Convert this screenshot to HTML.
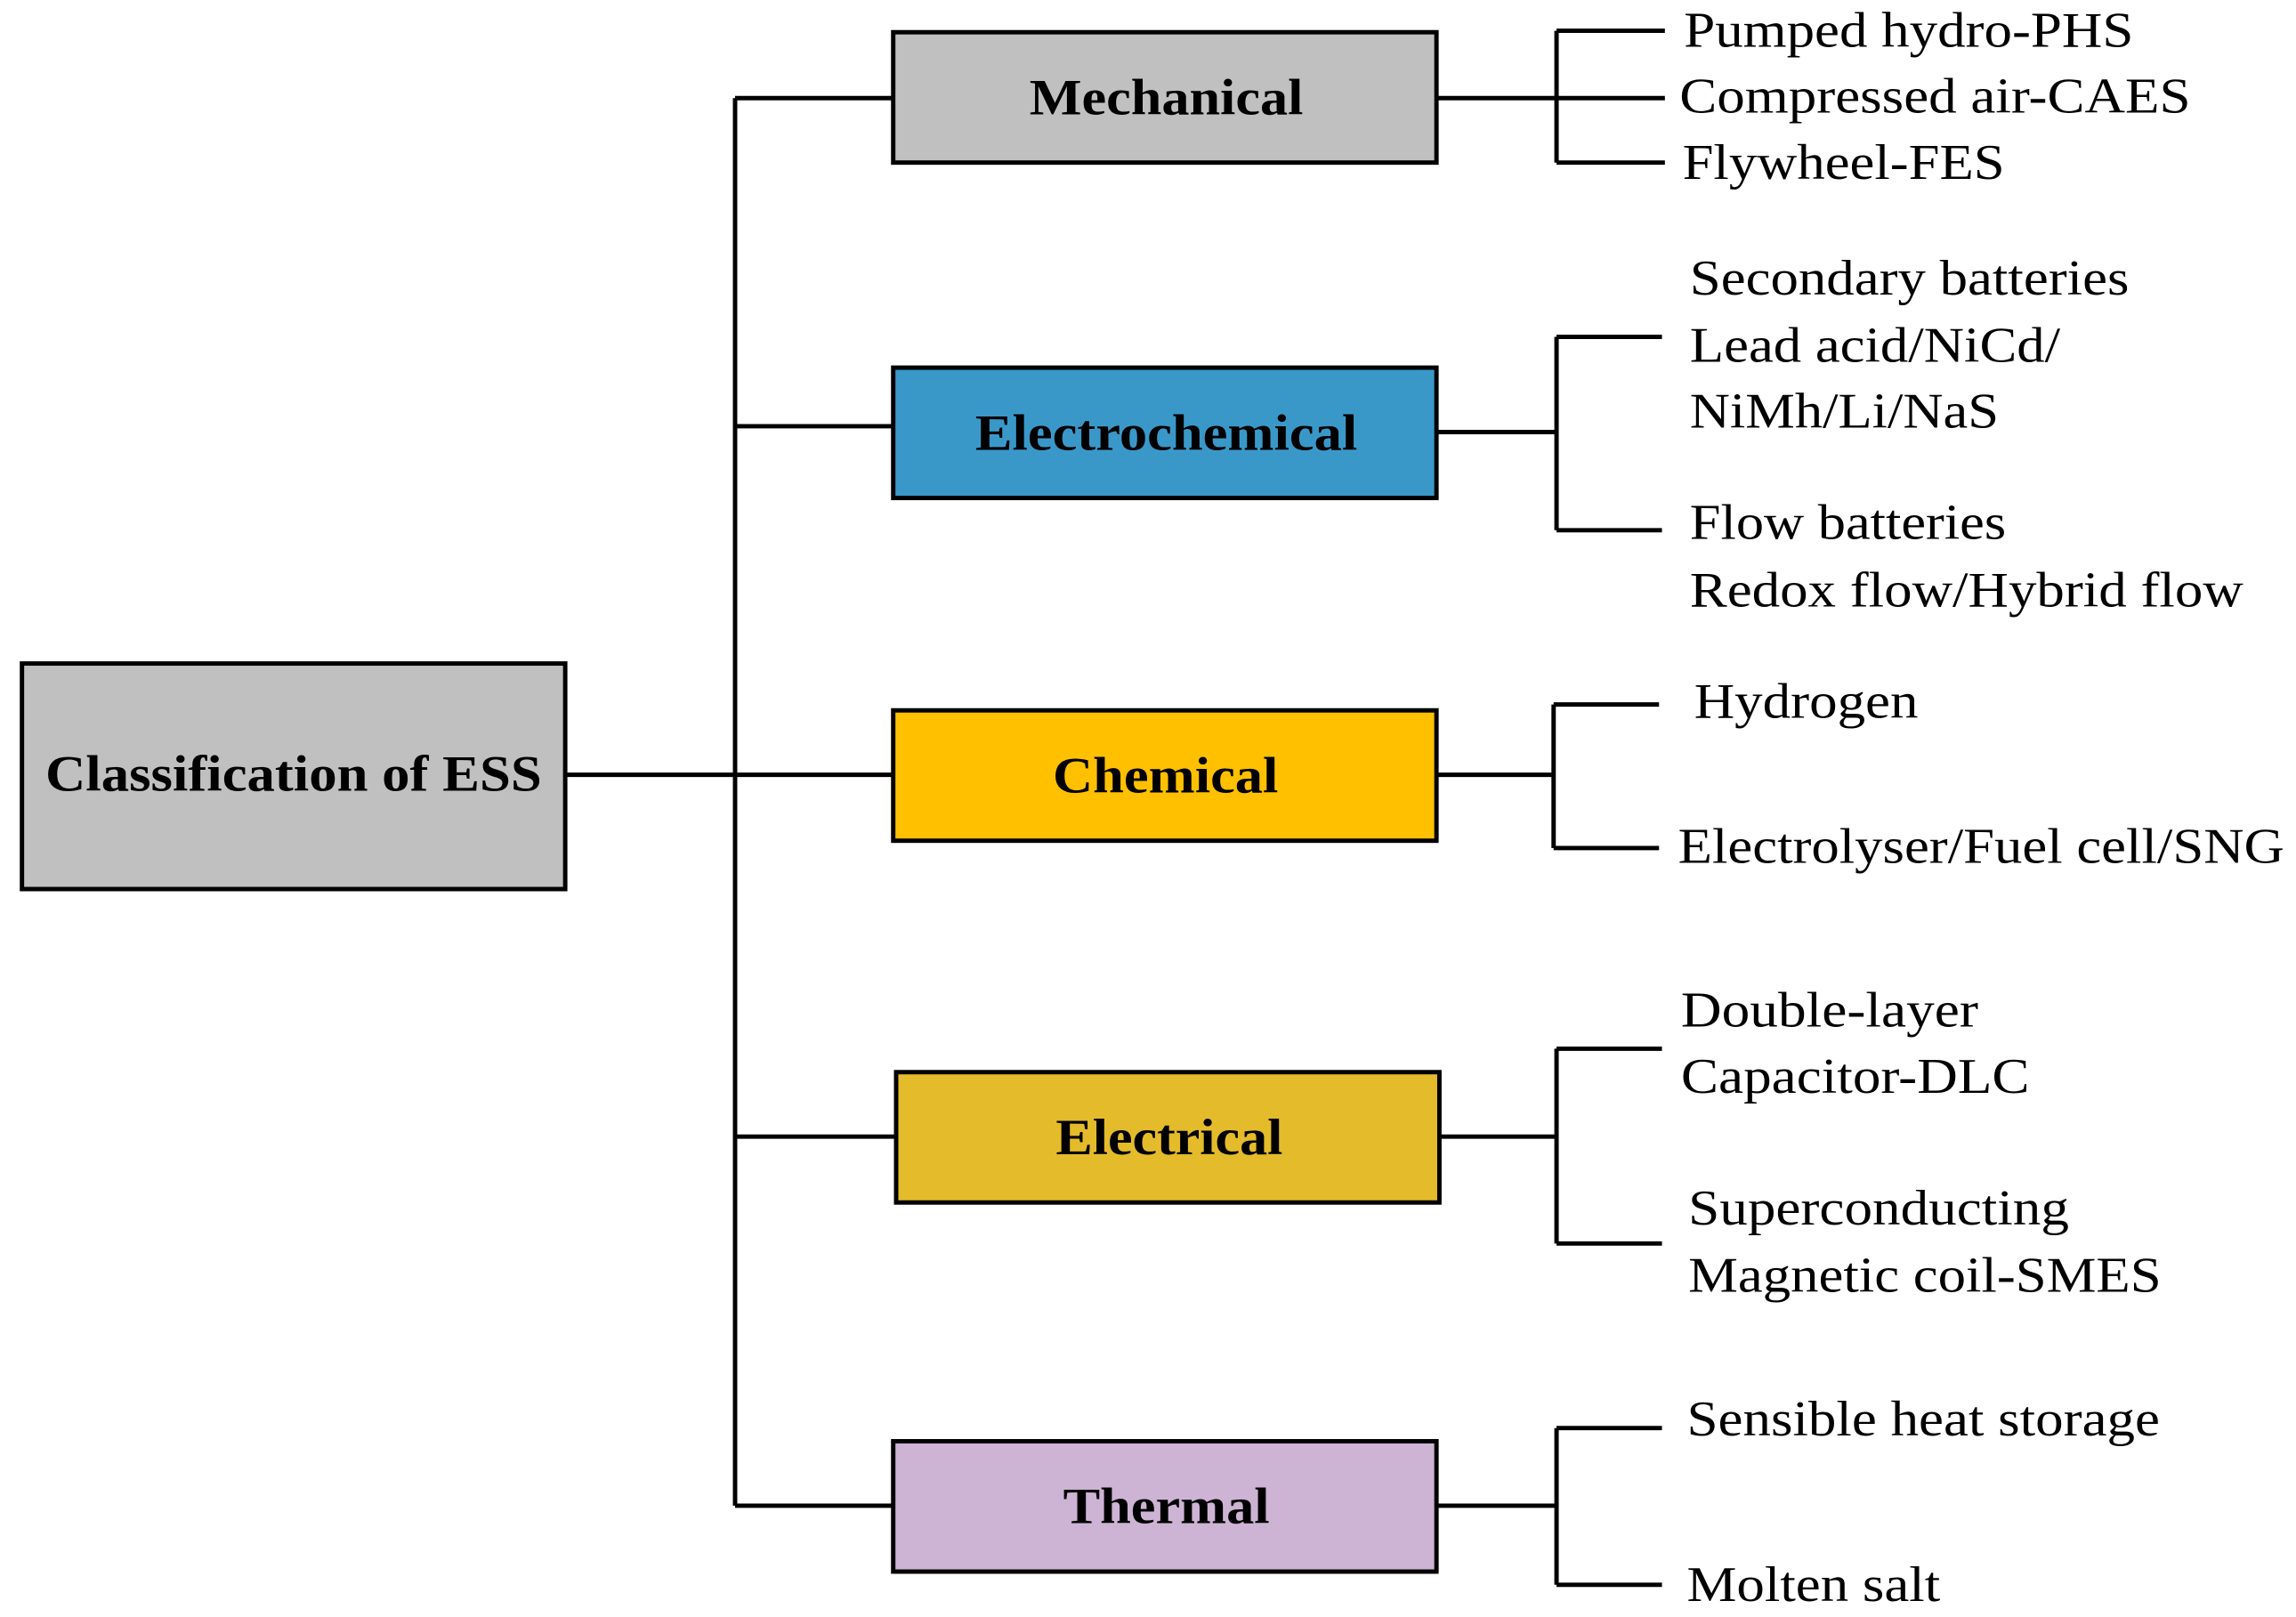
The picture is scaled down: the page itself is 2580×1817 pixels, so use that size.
<!DOCTYPE html>
<html><head><meta charset="utf-8"><style>html,body{margin:0;padding:0;background:#fff}svg{display:block}</style></head>
<body>
<svg width="2580" height="1817" viewBox="0 0 1568 1104" preserveAspectRatio="none" xmlns="http://www.w3.org/2000/svg" font-family="'Liberation Serif', serif">
<g stroke="#000" stroke-width="3" fill="none">
<!-- trunk -->
<path d="M502 67V1028M386 529H610M502 67H610M502 291H610M502 776H612M502 1028H610"/>
<!-- mech -->
<path d="M981 67H1137M1063 21V111M1063 21H1137M1063 111H1137"/>
<!-- electrochem -->
<path d="M981 295H1063M1063 230V362M1063 230H1135M1063 362H1135"/>
<!-- chemical -->
<path d="M981 529H1061M1061 481V579M1061 481H1133M1061 579H1133"/>
<!-- electrical -->
<path d="M983 776H1063M1063 716V849M1063 716H1135M1063 849H1135"/>
<!-- thermal -->
<path d="M981 1028H1063M1063 975V1082M1063 975H1135M1063 1082H1135"/>
</g>
<g stroke="#000" stroke-width="3">
<rect x="15" y="453" width="371" height="154" fill="#c0c0c0"/>
<rect x="610" y="22" width="371" height="89" fill="#c0c0c0"/>
<rect x="610" y="251" width="371" height="89" fill="#3a98c9"/>
<rect x="610" y="485" width="371" height="89" fill="#ffc000"/>
<rect x="612" y="732" width="371" height="89" fill="#e4bb2b"/>
<rect x="610" y="984" width="371" height="89" fill="#cdb3d4"/>
</g>
<g font-weight="bold" font-size="35" fill="#000">
<text x="31" y="540" textLength="339" lengthAdjust="spacingAndGlyphs">Classification of ESS</text>
<text x="703" y="78" textLength="187" lengthAdjust="spacingAndGlyphs">Mechanical</text>
<text x="666" y="307" textLength="261" lengthAdjust="spacingAndGlyphs">Electrochemical</text>
<text x="719" y="541" textLength="154" lengthAdjust="spacingAndGlyphs">Chemical</text>
<text x="721" y="788" textLength="155" lengthAdjust="spacingAndGlyphs">Electrical</text>
<text x="726" y="1040" textLength="141" lengthAdjust="spacingAndGlyphs">Thermal</text>
</g>
<g font-size="34" fill="#000" lengthAdjust="spacingAndGlyphs">
<text x="1150" y="32" textLength="307" lengthAdjust="spacingAndGlyphs">Pumped hydro-PHS</text>
<text x="1147" y="77" textLength="349" lengthAdjust="spacingAndGlyphs">Compressed air-CAES</text>
<text x="1149" y="122" textLength="220" lengthAdjust="spacingAndGlyphs">Flywheel-FES</text>
<text x="1154" y="201" textLength="300" lengthAdjust="spacingAndGlyphs">Secondary batteries</text>
<text x="1154" y="247" textLength="253" lengthAdjust="spacingAndGlyphs">Lead acid/NiCd/</text>
<text x="1154" y="292" textLength="211" lengthAdjust="spacingAndGlyphs">NiMh/Li/NaS</text>
<text x="1154" y="368" textLength="216" lengthAdjust="spacingAndGlyphs">Flow batteries</text>
<text x="1154" y="414" textLength="378" lengthAdjust="spacingAndGlyphs">Redox flow/Hybrid flow</text>
<text x="1157" y="490" textLength="153" lengthAdjust="spacingAndGlyphs">Hydrogen</text>
<text x="1146" y="589" textLength="414" lengthAdjust="spacingAndGlyphs">Electrolyser/Fuel cell/SNG</text>
<text x="1148" y="701" textLength="203" lengthAdjust="spacingAndGlyphs">Double-layer</text>
<text x="1148" y="746" textLength="238" lengthAdjust="spacingAndGlyphs">Capacitor-DLC</text>
<text x="1153" y="836" textLength="260" lengthAdjust="spacingAndGlyphs">Superconducting</text>
<text x="1153" y="882" textLength="323" lengthAdjust="spacingAndGlyphs">Magnetic coil-SMES</text>
<text x="1152" y="980" textLength="323" lengthAdjust="spacingAndGlyphs">Sensible heat storage</text>
<text x="1152" y="1093" textLength="173" lengthAdjust="spacingAndGlyphs">Molten salt</text>
</g>
</svg>
</body></html>
